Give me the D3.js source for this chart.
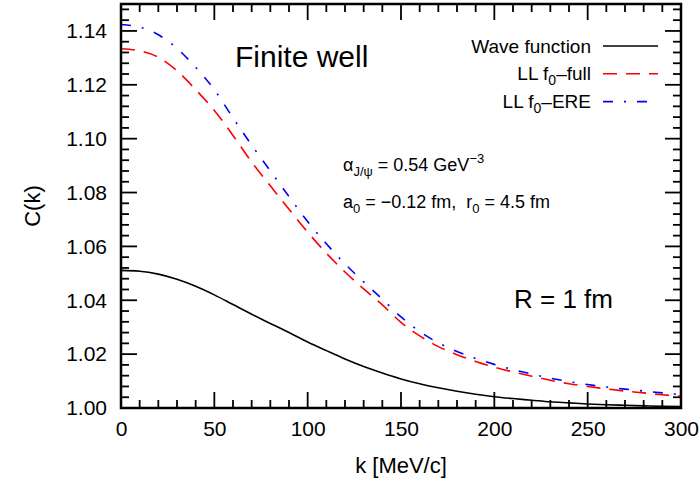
<!DOCTYPE html>
<html>
<head>
<meta charset="utf-8">
<script src="https://cdn.jsdelivr.net/npm/d3@7"></script>
<style>
  body { margin: 0; background: #fff; }
  text { font-family: "Liberation Sans", Arial, sans-serif; fill: #000; }
</style>
</head>
<body>
<svg width="700" height="486"></svg>
<script>
const kValues = d3.range(0, 301, 10);
const waveFunction = [1.0511, 1.0508, 1.0497, 1.0478, 1.0452, 1.0420, 1.0384, 1.0348, 1.0314, 1.0280,
  1.0245, 1.0213, 1.0182, 1.0154, 1.0130, 1.0108, 1.0090, 1.0075, 1.0062, 1.0051,
  1.0042, 1.0035, 1.0029, 1.0023, 1.0019, 1.0015, 1.0012, 1.0010, 1.0008, 1.0006, 1.0005];
const llFull = [1.1334, 1.1326, 1.1302, 1.1252, 1.1182, 1.1105, 1.1012, 1.0913, 1.0825, 1.0738,
  1.0653, 1.0575, 1.0505, 1.0442, 1.0383, 1.0318, 1.0268, 1.0228, 1.0198, 1.0173,
  1.0152, 1.0134, 1.0118, 1.0103, 1.0090, 1.0080, 1.0071, 1.0063, 1.0056, 1.0049, 1.0043];
const llEre = [1.1424, 1.1414, 1.1386, 1.1335, 1.1265, 1.1182, 1.1077, 1.0976, 1.0880, 1.0785,
  1.0692, 1.0610, 1.0535, 1.0468, 1.0404, 1.0338, 1.0284, 1.0242, 1.0210, 1.0184,
  1.0162, 1.0143, 1.0126, 1.0111, 1.0098, 1.0087, 1.0078, 1.0070, 1.0063, 1.0056, 1.0050];
const xTicks = [0, 50, 100, 150, 200, 250, 300];
const yTicks = [1.00, 1.02, 1.04, 1.06, 1.08, 1.10, 1.12, 1.14];

const svg = d3.select('svg');
const margin = { top: 4, right: 19, bottom: 78, left: 121 };
const chartWidth = 700 - margin.left - margin.right;
const chartHeight = 486 - margin.top - margin.bottom;
const g = svg.append('g').attr('transform', `translate(${margin.left},${margin.top})`);

const x = d3.scaleLinear().domain([0, 300]).range([0, chartWidth]);
const y = d3.scaleLinear().domain([1.0, 1.15]).range([chartHeight, 0]);

const xMinor = d3.range(0, 301, 10).filter((d) => d % 50 !== 0);
const yMinor = d3.range(1.0, 1.1501, 0.004).filter((d) => Math.abs(Math.round(d / 0.02) * 0.02 - d) > 1e-6);

// inward ticks on all four sides
const xt = xTicks.map((d) => ({ v: d, len: 16 })).concat(xMinor.map((d) => ({ v: d, len: 8 })));
const yt = yTicks.map((d) => ({ v: d, len: 16 })).concat(yMinor.map((d) => ({ v: d, len: 8 })));
const ticksG = g.append('g').attr('stroke', '#000').attr('stroke-width', 1.8);
ticksG.selectAll('.xb').data(xt).enter().append('line')
  .attr('x1', (d) => x(d.v)).attr('x2', (d) => x(d.v))
  .attr('y1', chartHeight).attr('y2', (d) => chartHeight - d.len);
ticksG.selectAll('.xt').data(xt).enter().append('line')
  .attr('x1', (d) => x(d.v)).attr('x2', (d) => x(d.v))
  .attr('y1', 0).attr('y2', (d) => d.len);
ticksG.selectAll('.yl').data(yt).enter().append('line')
  .attr('y1', (d) => y(d.v)).attr('y2', (d) => y(d.v))
  .attr('x1', 0).attr('x2', (d) => d.len);
ticksG.selectAll('.yr').data(yt).enter().append('line')
  .attr('y1', (d) => y(d.v)).attr('y2', (d) => y(d.v))
  .attr('x1', chartWidth).attr('x2', (d) => chartWidth - d.len);

// tick labels
g.append('g').attr('transform', `translate(0,${chartHeight})`)
  .call(d3.axisBottom(x).tickValues(xTicks).tickSize(0).tickPadding(13).tickFormat(d3.format('d')))
  .call((s) => s.select('.domain').remove())
  .selectAll('text').attr('font-size', '21px').attr('font-family', '"Liberation Sans", Arial, sans-serif');
g.append('g')
  .call(d3.axisLeft(y).tickValues(yTicks).tickSize(0).tickPadding(14).tickFormat(d3.format('.2f')))
  .call((s) => s.select('.domain').remove())
  .selectAll('text').attr('font-size', '21px').attr('font-family', '"Liberation Sans", Arial, sans-serif');

// curves
const makeLine = d3.line()
  .x((d) => x(d[0]))
  .y((d) => y(d[1]))
  .curve(d3.curveMonotoneX);
const pairs = (vals) => vals.map((v, i) => [kValues[i], v]);

g.append('path').attr('d', makeLine(pairs(waveFunction)))
  .attr('fill', 'none').attr('stroke', '#000').attr('stroke-width', 1.6);
g.append('path').attr('d', makeLine(pairs(llFull)))
  .attr('fill', 'none').attr('stroke', '#ff0000').attr('stroke-width', 1.6)
  .attr('stroke-dasharray', '14,9');
g.append('path').attr('d', makeLine(pairs(llEre)))
  .attr('fill', 'none').attr('stroke', '#0000ff').attr('stroke-width', 1.6)
  .attr('stroke-dasharray', '10,11,2,11');

// frame
g.append('rect').attr('width', chartWidth).attr('height', chartHeight)
  .attr('fill', 'none').attr('stroke', '#000').attr('stroke-width', 2.5);

// axis titles
svg.append('text').attr('x', margin.left + chartWidth / 2).attr('y', 473)
  .attr('text-anchor', 'middle').attr('font-size', '22px').text('k [MeV/c]');
svg.append('text').attr('transform', `translate(40,${margin.top + chartHeight / 2}) rotate(-90)`)
  .attr('text-anchor', 'middle').attr('font-size', '22px').text('C(k)');

// legend
const legend = [
  { label: 'Wave function', color: '#000', dash: 'none' },
  { label: 'LL f', sub: '0', rest: '–full', color: '#ff0000', dash: '14,9' },
  { label: 'LL f', sub: '0', rest: '–ERE', color: '#0000ff', dash: '10,11,2,11' }
];
legend.forEach((d, i) => {
  const yy = 46 + i * 27.8;
  const t = svg.append('text').attr('x', 591).attr('y', yy + 6.5)
    .attr('text-anchor', 'end').attr('font-size', '19px');
  t.append('tspan').text(d.label);
  if (d.sub) {
    t.append('tspan').attr('font-size', '14px').attr('dy', 5).text(d.sub);
    t.append('tspan').attr('dy', -5).text(d.rest);
  }
  svg.append('line').attr('x1', 603).attr('x2', 658).attr('y1', yy).attr('y2', yy)
    .attr('stroke', d.color).attr('stroke-width', 1.6)
    .attr('stroke-dasharray', d.dash);
});

// annotations
svg.append('text').attr('x', 235).attr('y', 67).attr('font-size', '30px').text('Finite well');
svg.append('text').attr('x', 514).attr('y', 308).attr('font-size', '26px').text('R = 1 fm');

const a1 = svg.append('text').attr('x', 343).attr('y', 171).attr('font-size', '18px');
a1.append('tspan').text('α');
a1.append('tspan').attr('font-size', '13px').attr('dy', 5).text('J/ψ');
a1.append('tspan').attr('dy', -5).text(' = 0.54 GeV');
a1.append('tspan').attr('font-size', '13px').attr('dy', -8).text('−3');

const a2 = svg.append('text').attr('x', 343).attr('y', 208).attr('font-size', '18px')
  .style('white-space', 'pre');
a2.append('tspan').text('a');
a2.append('tspan').attr('font-size', '13px').attr('dy', 5).text('0');
a2.append('tspan').attr('dy', -5).text(' = −0.12 fm,  r');
a2.append('tspan').attr('font-size', '13px').attr('dy', 5).text('0');
a2.append('tspan').attr('dy', -5).text(' = 4.5 fm');
</script>
</body>
</html>
